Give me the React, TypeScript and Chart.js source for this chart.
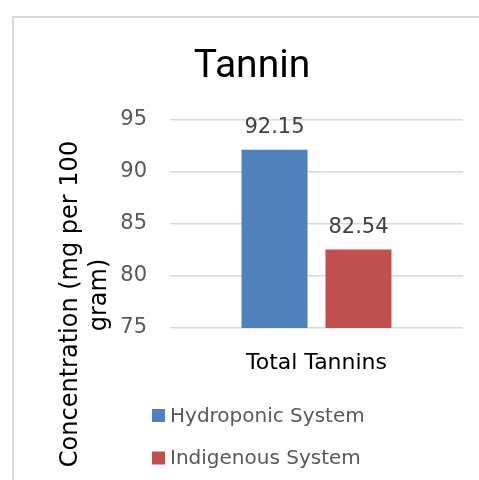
import React, { useEffect, useRef } from "react";
import { Chart, registerables } from "chart.js";

Chart.register(...registerables);

const chartTitle = "Tannin";
const categories = ["Total Tannins"];
const seriesNames = ["Hydroponic System", "Indigenous System"];
const hydroponicValues = [92.15];
const indigenousValues = [82.54];
const seriesColors = ["#4F81BD", "#C0504D"];
const yTitleLines = ["Concentration (mg per 100", "gram)"];
const yMin = 75;
const yMax = 95;
const yStep = 5;

const LABEL_FONT = "'DejaVu Sans', sans-serif";

const decorPlugin = {
  id: "decor",
  beforeDraw(chart: any) {
    const ctx = chart.ctx;
    ctx.save();
    ctx.strokeStyle = "#d9d9d9";
    ctx.lineWidth = 2;
    ctx.strokeRect(13, 17, 700, 700);
    ctx.restore();
  },
  afterDraw(chart: any) {
    const ctx = chart.ctx;
    ctx.save();
    // Title
    ctx.fillStyle = "#000000";
    ctx.font = "400 39px Roboto, sans-serif";
    ctx.textAlign = "center";
    ctx.textBaseline = "alphabetic";
    ctx.fillText(chartTitle, 252, 77);

    // Y axis title
    ctx.font = `24px ${LABEL_FONT}`;
    ctx.fillStyle = "#000000";
    ctx.textAlign = "center";
    ctx.textBaseline = "alphabetic";
    const baselines = [77, 106];
    const centers = [304, 295];
    yTitleLines.forEach((line, i) => {
      ctx.save();
      ctx.translate(baselines[i], centers[i]);
      ctx.rotate(-Math.PI / 2);
      ctx.fillText(line, 0, 0);
      ctx.restore();
    });

    // Data labels
    ctx.font = `21px ${LABEL_FONT}`;
    ctx.fillStyle = "#404040";
    ctx.textAlign = "center";
    ctx.textBaseline = "alphabetic";
    chart.data.datasets.forEach((ds: any, di: number) => {
      const meta = chart.getDatasetMeta(di);
      meta.data.forEach((bar: any, idx: number) => {
        ctx.fillText(ds.data[idx].toFixed(2), bar.x, bar.y - 17);
      });
    });

    // Legend
    ctx.font = `20px ${LABEL_FONT}`;
    ctx.textAlign = "left";
    ctx.textBaseline = "middle";
    const rows = [415.5, 458];
    seriesNames.forEach((name, i) => {
      ctx.fillStyle = seriesColors[i];
      ctx.fillRect(152, rows[i] - 6.5, 13, 13);
      ctx.fillStyle = "#595959";
      ctx.fillText(name, 170, rows[i] + 1);
    });
    ctx.restore();
  },
};

export default function App() {
  const canvasRef = useRef<HTMLCanvasElement | null>(null);

  useEffect(() => {
    if (!canvasRef.current) return;
    const chart = new Chart(canvasRef.current, {
      type: "bar",
      data: {
        labels: categories,
        datasets: [
          {
            label: seriesNames[0],
            data: hydroponicValues,
            backgroundColor: seriesColors[0],
            categoryPercentage: 0.573,
            barPercentage: 0.786,
          },
          {
            label: seriesNames[1],
            data: indigenousValues,
            backgroundColor: seriesColors[1],
            categoryPercentage: 0.573,
            barPercentage: 0.786,
          },
        ],
      },
      options: {
        responsive: false,
        animation: false,
        devicePixelRatio: 1,
        layout: { padding: { left: 0, right: 16, top: 120, bottom: 0 } },
        plugins: {
          legend: { display: false },
          title: { display: false },
          tooltip: { enabled: false },
        },
        scales: {
          x: {
            grid: { display: false, drawTicks: false },
            border: { display: false },
            ticks: {
              color: "#000000",
              font: { family: LABEL_FONT, size: 22 },
              padding: 22,
            },
            afterFit: (scale: any) => {
              scale.height = 152;
            },
          },
          y: {
            min: yMin,
            max: yMax,
            grid: { color: "#d9d9d9", lineWidth: 1.5, drawTicks: false },
            border: { display: false },
            ticks: {
              stepSize: yStep,
              color: "#595959",
              font: { family: LABEL_FONT, size: 21 },
              padding: 23,
            },
            afterFit: (scale: any) => {
              scale.width = 170;
            },
          },
        },
      },
      plugins: [decorPlugin],
    });
    return () => chart.destroy();
  }, []);

  return (
    <div style={{ position: "fixed", left: 0, top: 0, width: 479, height: 480, background: "#ffffff" }}>
      <canvas ref={canvasRef} width={479} height={480} style={{ width: 479, height: 480, display: "block" }} />
    </div>
  );
}
